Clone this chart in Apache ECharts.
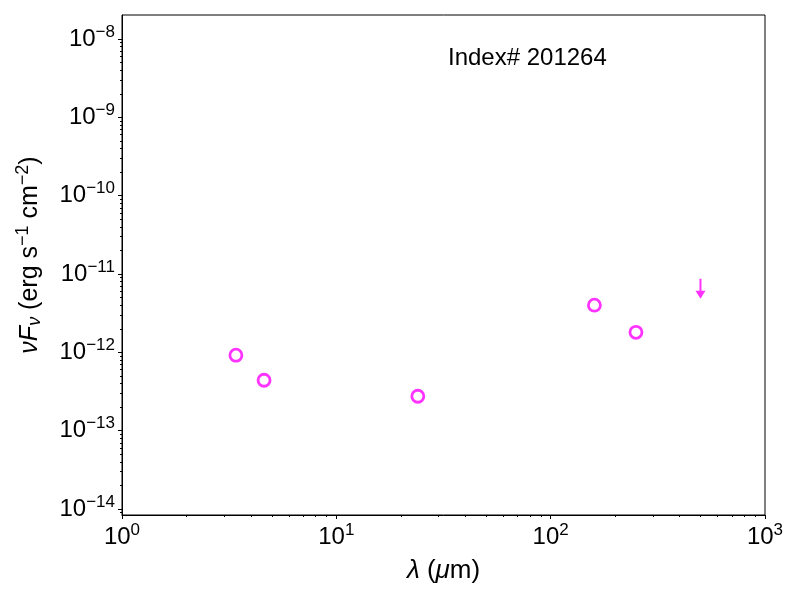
<!DOCTYPE html>
<html>
<head>
<meta charset="utf-8">
<script src="https://cdn.jsdelivr.net/npm/echarts@6/dist/echarts.min.js"></script>
<style>
  html, body { margin: 0; padding: 0; background: #fff; }
  #sed { width: 800px; height: 600px; }
</style>
</head>
<body>
<div id="sed"></div>
<script>
// photometry
var wavelengths = [3.4, 4.6, 24, 160, 250];
var fluxes = [9.2e-13, 4.4e-13, 2.75e-13, 4.0e-12, 1.8e-12];
var limitWavelengths = [500];
var limitFluxes = [8.7e-12];

var xMajor = [1, 10, 100, 1000];
var yMajor = [1e-14, 1e-13, 1e-12, 1e-11, 1e-10, 1e-9, 1e-8];

function minorsBetween(lo, hi) {
    var out = [];
    for (var e = lo; e < hi; e++) {
        for (var m = 2; m <= 9; m++) out.push(m * Math.pow(10, e));
    }
    return out;
}
var xMinor = minorsBetween(0, 3);
var yMinor = minorsBetween(-15, -7).filter(function (v) { return v > 8.4e-15 && v < 1.96e-8; });

var font = 'Liberation Sans';
var xMin = 1, xMax = 1000;
var yMin = Math.pow(10, -14.077), yMax = Math.pow(10, -7.693);

function powLabel(v) {
    var e = Math.round(Math.log10(v));
    return '{b|10}{s|' + (e < 0 ? '\u2212' : '') + Math.abs(e) + '}';
}
var powRich = {
    b: { fontSize: 24, fontFamily: font, color: '#000' },
    s: { fontSize: 17, fontFamily: font, color: '#000', padding: [0, 0, 14, 0] }
};

var chart = echarts.init(document.getElementById('sed'));
chart.setOption({
    backgroundColor: '#fff',
    animation: false,
    title: {
        text: 'Index# 201264',
        left: 448, top: 46, padding: 0,
        textStyle: { fontSize: 24, fontWeight: 'normal', fontFamily: font, color: '#000' }
    },
    grid: { left: 122, right: 35, top: 15, bottom: 85, show: true, borderColor: '#000', borderWidth: 1, containLabel: false },
    xAxis: [{
        type: 'log', logBase: 10, min: xMin, max: xMax,
        name: '{i|\u03bb}{n| (}{i|\u03bc}{n|m)}',
        nameLocation: 'middle', nameGap: 43,
        nameTextStyle: {
            rich: {
                i: { fontSize: 26, fontFamily: font, fontStyle: 'italic', color: '#000' },
                n: { fontSize: 26, fontFamily: font, color: '#000' }
            }
        },
        axisLine: { show: true, lineStyle: { color: '#000', width: 1 } },
        axisTick: { show: true, inside: false, length: 4, customValues: xMajor, lineStyle: { color: '#000' } },
        axisLabel: { customValues: xMajor, margin: 7, formatter: powLabel, rich: powRich },
        splitLine: { show: false }
    }, {
        type: 'log', logBase: 10, min: xMin, max: xMax, position: 'bottom',
        axisLine: { show: false },
        axisTick: { show: true, length: 2, customValues: xMinor, lineStyle: { color: '#000' } },
        axisLabel: { show: false },
        splitLine: { show: false }
    }],
    yAxis: [{
        type: 'log', logBase: 10, min: yMin, max: yMax,
        name: '{i|\u03bdF}{sub|\u03bd}{n| (erg s}{sup|\u22121}{n| cm}{sup|\u22122}{n|)}',
        nameLocation: 'middle', nameGap: 76,
        nameTextStyle: {
            padding: [0, 0, 0, 20],
            rich: {
                i: { fontSize: 25, fontFamily: font, fontStyle: 'italic', color: '#000' },
                sub: { fontSize: 18, fontFamily: font, fontStyle: 'italic', color: '#000', padding: [10, 0, 0, 0] },
                n: { fontSize: 25, fontFamily: font, color: '#000' },
                sup: { fontSize: 18, fontFamily: font, color: '#000', padding: [0, 0, 14, 0] }
            }
        },
        axisLine: { show: true, lineStyle: { color: '#000', width: 1 } },
        axisTick: { show: true, inside: false, length: 4, customValues: yMajor, lineStyle: { color: '#000' } },
        axisLabel: { customValues: yMajor, margin: 7, formatter: powLabel, rich: powRich },
        splitLine: { show: false }
    }, {
        type: 'log', logBase: 10, min: yMin, max: yMax, position: 'left',
        axisLine: { show: false },
        axisTick: { show: true, length: 2, customValues: yMinor, lineStyle: { color: '#000' } },
        axisLabel: { show: false },
        splitLine: { show: false }
    }],
    series: [{
        type: 'scatter',
        data: wavelengths.map(function (w, i) { return [w, fluxes[i]]; }),
        symbol: 'circle',
        symbolSize: 12,
        itemStyle: { color: 'rgba(0,0,0,0)', borderColor: '#ff00ff', borderWidth: 2.8 }
    }, {
        type: 'scatter',
        data: limitWavelengths.map(function (w, i) { return [w, limitFluxes[i]]; }),
        symbol: 'path://M4,0 L6,0 L6,12 L10,12 L5,20 L0,12 L4,12 Z',
        symbolSize: [10, 20],
        symbolOffset: [0, '50%'],
        itemStyle: { color: '#ff00ff' }
    }]
});
</script>
</body>
</html>
